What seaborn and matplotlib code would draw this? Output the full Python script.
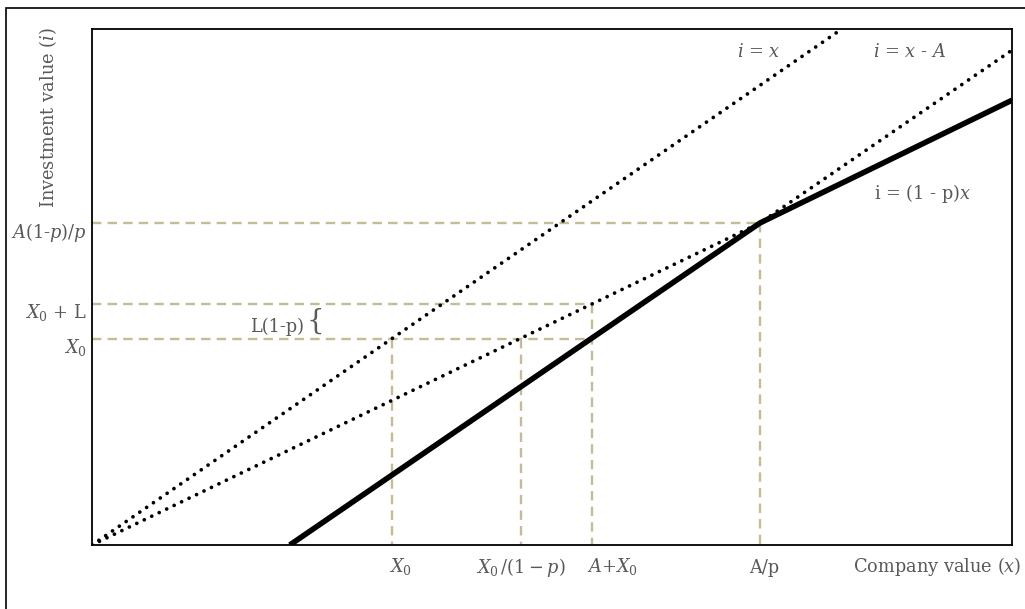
import matplotlib
matplotlib.use("Agg")
import matplotlib.pyplot as plt
import matplotlib.transforms as mtransforms
from matplotlib.patches import Rectangle
import seaborn as sns
import pandas as pd

# ---- data (axes span 0..100 in both directions) ----
line_ix_x = [0.0, 81.5]
line_ix_y = [0.0, 100.0]
line_ixa_x = [0.0, 72.6, 100.0]
line_ixa_y = [0.0, 62.4, 95.9]
solid_x = [21.5, 72.6, 100.0]
solid_y = [0.0, 62.4, 86.2]

x_ticks = [32.6, 46.6, 54.3, 72.6]
x_tick_labels = [r"$X_0$", r"$X_0\,/(1-p)$", r"$A{+}X_0$", "A/p"]
y_ticks = [39.9, 46.7, 62.4]
y_tick_labels = [r"$X_0$", r"$X_0$ + L", r"$A$(1-$p$)/$p$"]

# guide segments: (x0, y0, x1, y1) built from tick values
guides = [
    (0, y_ticks[0], x_ticks[2], y_ticks[0]),
    (0, y_ticks[1], x_ticks[2], y_ticks[1]),
    (0, y_ticks[2], x_ticks[3], y_ticks[2]),
    (x_ticks[0], y_ticks[0], x_ticks[0], 0),
    (x_ticks[1], y_ticks[0], x_ticks[1], 0),
    (x_ticks[2], y_ticks[1], x_ticks[2], 0),
    (x_ticks[3], y_ticks[2], x_ticks[3], 0),
]

sns.set_style("white")
plt.rcParams["font.family"] = ["DejaVu Serif"]
plt.rcParams["mathtext.fontset"] = "dejavuserif"

GREY = "#595959"
TAN = "#C4BC96"
FS = 12.8

fig = plt.figure(figsize=(10.25, 6.09), dpi=100)
ax = fig.add_axes([92 / 1025, 64 / 609, 920 / 1025, 516 / 609])

# guides
for (gx0, gy0, gx1, gy1) in guides:
    g = pd.DataFrame({"x": [gx0, gx1], "y": [gy0, gy1]})
    sns.lineplot(data=g, x="x", y="y", ax=ax, color=TAN, lw=1.7,
                 linestyle=(0, (4, 2.6)), sort=False, estimator=None, zorder=1)

dot_style = dict(color="black", lw=2.7, linestyle=(0, (0.01, 2.2)),
                 dash_capstyle="round", sort=False, estimator=None, zorder=3)
sns.lineplot(x=line_ix_x, y=line_ix_y, ax=ax, **dot_style)
sns.lineplot(x=line_ixa_x, y=line_ixa_y, ax=ax, **dot_style)
sns.lineplot(x=solid_x, y=solid_y, ax=ax, color="black", lw=4.0,
             sort=False, estimator=None, zorder=4, solid_capstyle="butt")

ax.set_xlim(0, 100)
ax.set_ylim(0, 100)
ax.set_xlabel("")
ax.set_ylabel("")
for s in ax.spines.values():
    s.set_color("black")
    s.set_linewidth(1.3)
    s.set_visible(True)

ax.set_xticks(x_ticks)
ax.set_xticklabels(x_tick_labels, fontsize=FS, color=GREY)
ax.set_yticks(y_ticks)
ax.set_yticklabels(y_tick_labels, fontsize=FS, color=GREY)
ax.tick_params(axis="both", length=0)
ax.tick_params(axis="x", pad=8)
ax.tick_params(axis="y", pad=4)
off = mtransforms.ScaledTranslation(0, -6 / 100, fig.dpi_scale_trans)
for lab in ax.get_yticklabels():
    lab.set_transform(lab.get_transform() + off)
# horizontal placement of x labels relative to their guide lines
x_align = [("left", -3, 0), ("center", 0, 0), ("left", -5, 0), ("center", 4, -3)]
for lab, (ha, dx, dy) in zip(ax.get_xticklabels(), x_align):
    lab.set_ha(ha)
    lab.set_transform(lab.get_transform()
                      + mtransforms.ScaledTranslation(dx / 100, dy / 100, fig.dpi_scale_trans))

# axis titles
ax.text(1.0098, -22 / 516, r"Company value ($x$)", transform=ax.transAxes,
        ha="right", va="center", fontsize=FS, color=GREY)
fig.text(48 / 1025, 1 - 118 / 609, r"Investment value ($i$)", rotation=90,
         ha="center", va="center", fontsize=FS, color=GREY)

# annotations
ax.text(72.5, 95.5, r"$i$ = $x$", ha="center", va="center", fontsize=FS, color=GREY)
ax.text(88.9, 95.5, r"$i$ = $x$ - $A$", ha="center", va="center", fontsize=FS, color=GREY)
ax.text(90.3, 68.2, r"i = (1 - p)$x$", ha="center", va="center", fontsize=FS, color=GREY)
ax.text(20.1, 42.2, "L(1-p)", ha="center", va="center", fontsize=FS, color=GREY)
ax.text(24.3, 43.4, "{", ha="center", va="center", fontsize=20, color=GREY)

# figure border (right / bottom edges fall outside the image)
fig.add_artist(Rectangle((6 / 1025, -0.2), 1.5, 0.2 + 1 - 8 / 609,
                         transform=fig.transFigure, fill=False,
                         edgecolor="black", lw=1.2))

fig.savefig("out.png", dpi=100)
